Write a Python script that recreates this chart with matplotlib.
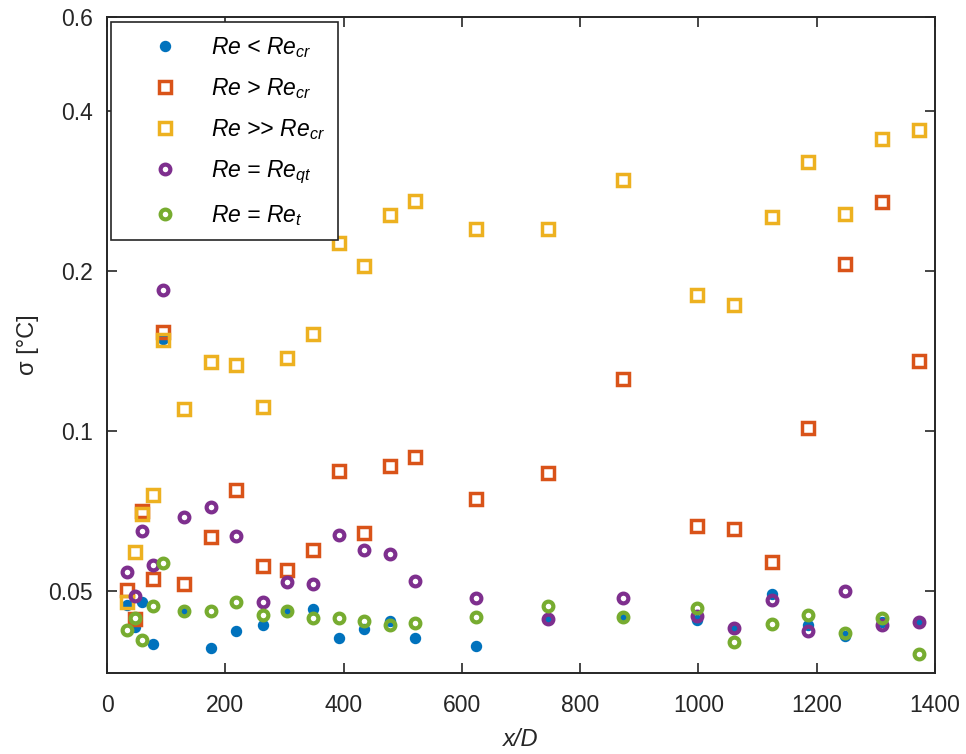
import matplotlib
matplotlib.use("Agg")
import matplotlib.pyplot as plt

plt.rcParams['font.family'] = ['Liberation Sans', 'DejaVu Sans']
plt.rcParams['mathtext.fontset'] = 'custom'
plt.rcParams['mathtext.it'] = 'Liberation Sans:italic'
plt.rcParams['mathtext.rm'] = 'Liberation Sans'

# ---- data ----
x_d = [34, 47, 60, 78, 95, 130, 176, 218, 263, 305, 349, 392, 434, 478, 521,
       624, 746, 872, 998, 1060, 1124, 1186, 1248, 1311, 1373]

re_lt_cr = [0.0470, 0.0428, 0.0477, 0.0397, 0.149, 0.0458, 0.0390, 0.0420, 0.0431,
            0.0458, 0.0461, 0.0407, 0.0423, 0.0439, 0.0407, 0.0394, 0.0442, 0.0446,
            0.0440, 0.0425, 0.0493, 0.0430, 0.0410, 0.0437, 0.0437]
re_gt_cr = [0.0501, 0.0443, 0.0705, 0.0526, 0.153, 0.0514, 0.0632, 0.0772, 0.0557,
            0.0547, 0.0597, 0.0838, 0.0641, 0.0859, 0.0894, 0.0744, 0.0831, 0.1248,
            0.0663, 0.0652, 0.0567, 0.101, 0.206, 0.269, 0.135]
re_ggt_cr = [0.0477, 0.0591, 0.0697, 0.0757, 0.148, 0.1096, 0.1346, 0.133, 0.111,
             0.137, 0.152, 0.225, 0.204, 0.255, 0.2706, 0.240, 0.239, 0.296,
             0.180, 0.172, 0.252, 0.320, 0.256, 0.354, 0.368]
re_eq_qt = [0.0543, 0.0489, 0.0648, 0.0559, 0.184, 0.0687, 0.0717, 0.0634, 0.0477,
            0.0518, 0.0514, 0.0637, 0.0597, 0.0586, 0.0522, 0.0484, 0.0442, 0.0484,
            0.0448, 0.0425, 0.0480, 0.0420, 0.0500, 0.0430, 0.0437]
re_eq_t = [0.0421, 0.0445, 0.0404, 0.0468, 0.0563, 0.0458, 0.0458, 0.0477, 0.0450,
           0.0458, 0.0445, 0.0445, 0.0439, 0.0431, 0.0435, 0.0446, 0.0468, 0.0446,
           0.0464, 0.0400, 0.0432, 0.0450, 0.0417, 0.0445, 0.0380]

labels = [r'Re < Re$_{cr}$', r'Re > Re$_{cr}$', r'Re >> Re$_{cr}$',
          r'Re = Re$_{qt}$', r'Re = Re$_{t}$']
yticks = [0.05, 0.1, 0.2, 0.4, 0.6]
ytick_labels = ['0.05', '0.1', '0.2', '0.4', '0.6']
xticks = [0, 200, 400, 600, 800, 1000, 1200, 1400]

c_blue = '#0072BD'
c_orange = '#D95319'
c_yellow = '#EDB120'
c_purple = '#7E2F8E'
c_green = '#77AC30'
axcol = '#262626'

fig = plt.figure(figsize=(9.66, 7.54), dpi=100)
ax = fig.add_axes([107/966, 1-673/754, (935-107)/966, (673-17)/754])

ax.plot(x_d, re_lt_cr, 'o', ls='none', color=c_blue, ms=7.2, mec=c_blue,
        label=labels[0])
ax.plot(x_d, re_gt_cr, 's', ls='none', mfc='none', mec=c_orange, ms=8.8, mew=2.5,
        label=labels[1])
ax.plot(x_d, re_ggt_cr, 's', ls='none', mfc='none', mec=c_yellow, ms=8.8, mew=2.5,
        label=labels[2])
ax.plot(x_d, re_eq_qt, 'o', ls='none', mfc='none', mec=c_purple, ms=7.0, mew=3.0,
        label=labels[3])
ax.plot(x_d, re_eq_t, 'o', ls='none', mfc='none', mec=c_green, ms=7.0, mew=3.0,
        label=labels[4])

ax.set_yscale('log')
ax.set_ylim(0.035, 0.6)
ax.set_xlim(0, 1400)
ax.set_yticks(yticks)
ax.set_yticklabels(ytick_labels)
ax.yaxis.set_minor_locator(matplotlib.ticker.NullLocator())
ax.set_xticks(xticks)
ax.set_xticklabels([str(v) for v in xticks])

ax.tick_params(which='both', direction='in', length=7, width=1.2, color=axcol,
               labelcolor=axcol, labelsize=16.5, top=True, right=True)
ax.tick_params(axis='x', pad=15)
ax.tick_params(axis='y', pad=10)
for s in ax.spines.values():
    s.set_linewidth(1.4)
    s.set_color(axcol)

ax.set_xlabel('x/D', fontsize=17, style='italic', color=axcol, labelpad=8)
ax.set_ylabel('σ [°C]', fontsize=17, color=axcol, labelpad=7)

leg = ax.legend(loc='upper left', bbox_to_anchor=(111/966, 1-22/754),
                bbox_transform=fig.transFigure, borderaxespad=0,
                prop={'style': 'italic', 'size': 16.5}, frameon=True,
                fancybox=False, shadow=False, framealpha=1, edgecolor=axcol,
                borderpad=0.55, handlelength=3.6, handletextpad=0.22,
                labelspacing=0.72)
leg.get_frame().set_linewidth(1.2)
for t in leg.get_texts():
    t.set_color('black')

fig.savefig('out.png', dpi=100)
